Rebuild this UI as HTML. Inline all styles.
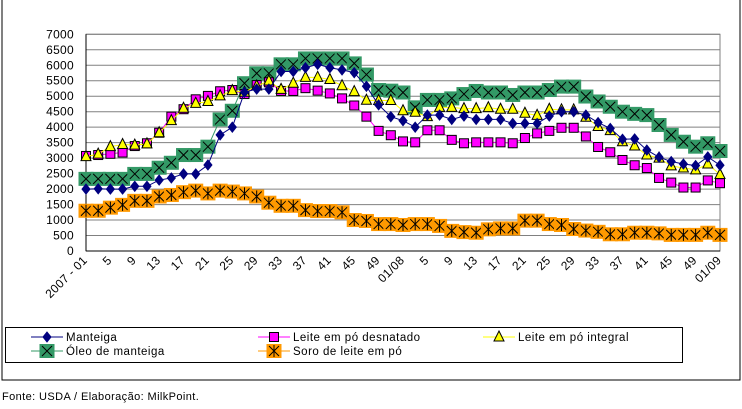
<!DOCTYPE html>
<html><head><meta charset="utf-8"><style>
body{margin:0;background:#fff;width:742px;height:404px;overflow:hidden;font-family:"Liberation Sans",sans-serif}
</style></head><body>
<svg id="c" width="742" height="404" xmlns="http://www.w3.org/2000/svg" font-family="Liberation Sans, sans-serif">
<rect x="2" y="-2" width="738" height="382" fill="#fff" stroke="#000" stroke-width="1"/>
<g id="grid"></g>
<g id="yax"></g>
<g id="xax"></g>
<g id="series"></g>
<g>
<rect x="5.5" y="327.5" width="677" height="35" fill="#fff" stroke="#000"/>
<g id="leg"></g>
</g>
<text x="2" y="400" font-size="11" letter-spacing="0.4" fill="#000">Fonte: USDA / Elaboração: MilkPoint.</text>
</svg>
<script>
const categories=["2007 - 01","5","9","13","17","21","25","29","33","37","41","45","49","01/08","5","9","13","17","21","25","29","33","37","41","45","49","01/09"];
const yTicks=[0,500,1000,1500,2000,2500,3000,3500,4000,4500,5000,5500,6000,6500,7000];
const manteiga=[2000,2010,2000,2000,2090,2090,2290,2360,2490,2490,2780,3750,4000,5130,5230,5230,5800,5800,5920,6030,5920,5850,5760,5320,4720,4340,4210,4000,4390,4390,4250,4360,4250,4250,4250,4120,4120,4120,4360,4500,4500,4390,4150,3960,3610,3620,3260,3030,2890,2810,2760,3040,2770];
const desnatado=[3070,3100,3140,3180,3390,3480,3820,4340,4580,4900,5010,5160,5200,5070,5360,5450,5170,5170,5260,5180,5090,4930,4700,4340,3880,3740,3540,3510,3900,3900,3590,3480,3510,3510,3510,3480,3650,3800,3880,3980,3980,3700,3360,3190,2940,2770,2680,2360,2210,2050,2050,2280,2190];
const integral=[3050,3130,3370,3440,3420,3460,3820,4210,4610,4770,4830,5010,5180,5130,5330,5490,5220,5420,5610,5610,5540,5340,5150,4870,4860,4860,4530,4480,4340,4640,4640,4600,4600,4630,4580,4580,4450,4380,4580,4560,4560,4320,4020,3890,3530,3390,3100,3000,2750,2680,2620,2810,2470];
const oleo=[2330,2330,2330,2330,2490,2490,2690,2850,3100,3100,3370,4250,4530,5420,5740,5740,6030,6030,6220,6220,6220,6220,6060,5700,5200,5180,5120,4640,4880,4880,4930,5070,5170,5120,5120,5040,5120,5120,5200,5310,5310,4990,4830,4660,4500,4430,4390,4070,3750,3530,3370,3480,3230];
const soro=[1300,1300,1400,1490,1620,1620,1760,1810,1900,1950,1860,1950,1920,1860,1760,1560,1460,1460,1320,1290,1290,1250,1000,970,870,870,840,870,870,810,650,610,590,700,730,730,980,980,870,840,710,660,620,540,540,590,590,570,520,520,520,590,520];
const NS="http://www.w3.org/2000/svg";
const X0=86,X1=720,Y0=251,Y1=34.3,N=manteiga.length;
const xs=i=>X0+(X1-X0)*i/(N-1);
const ys=v=>Y0-(Y0-Y1)*v/7000;
function el(t,a,p){const e=document.createElementNS(NS,t);for(const k in a)e.setAttribute(k,a[k]);p.appendChild(e);return e;}
const grid=document.getElementById('grid'),yax=document.getElementById('yax'),xax=document.getElementById('xax');
el('rect',{x:X0,y:Y1,width:X1-X0,height:Y0-Y1,fill:'#fff',stroke:'#808080'},grid);
yTicks.forEach(v=>{
 const l=el('line',{x1:X0,x2:X1,y1:ys(v),y2:ys(v),stroke:'#808080'},grid);
 
 
 const t=el('text',{x:74,y:ys(v)+4,'text-anchor':'end','font-size':'12','letter-spacing':'0.3'},yax);
 t.textContent=v;
 
 
});
el('line',{x1:X0,x2:X0,y1:Y1,y2:Y0,stroke:'#000'},yax);
el('line',{x1:X0,x2:X1,y1:Y0,y2:Y0,stroke:'#000'},xax);
categories.forEach((c,k)=>{
 const x=xs(k*2);
 const t=el('text',{x:x+2,y:Y0+10,'text-anchor':'end','font-size':'12','letter-spacing':'0.3',transform:`rotate(-45 ${x+2} ${Y0+10})`},xax);
 t.textContent=c;
 
 
});
const ser=document.getElementById('series');
function marker(type,x,y,g){
 if(type==='d')el('polygon',{points:`${x},${y-5} ${x+4},${y} ${x},${y+5} ${x-4},${y}`,fill:'#000080',stroke:'#000080'},g);
 if(type==='s')el('rect',{x:x-4.5,y:y-4.5,width:9,height:9,fill:'#ff00ff',stroke:'#000'},g);
 if(type==='t')el('polygon',{points:`${x},${y-6} ${x+5},${y+4} ${x-5},${y+4}`,fill:'#ffff00',stroke:'#000'},g);
 if(type==='o'){el('rect',{x:x-7.5,y:y-7,width:15,height:14,fill:'#339966'},g);el('path',{d:`M${x-5},${y-5}L${x+5},${y+5}M${x+5},${y-5}L${x-5},${y+5}`,stroke:'#000'},g);}
 if(type==='x'){el('rect',{x:x-7.5,y:y-7,width:15,height:14,fill:'#ff9900'},g);el('path',{d:`M${x-5},${y-5}L${x+5},${y+5}M${x+5},${y-5}L${x-5},${y+5}M${x},${y-6}L${x},${y+6}`,stroke:'#000'},g);}
}
const defs=[['oleo',oleo,'#339966','o'],['soro',soro,'#ff9900','x'],['desnatado',desnatado,'#ff00ff','s'],['integral',integral,'#ffff00','t'],['manteiga',manteiga,'#000080','d']];
defs.forEach(([n,d,col,m])=>{
 const g=el('g',{},ser);
 
 
 el('polyline',{points:d.map((v,i)=>xs(i)+','+ys(v)).join(' '),fill:'none',stroke:col,'stroke-width':1},g);
 d.forEach((v,i)=>marker(m,xs(i),ys(v),g));
});
const leg=document.getElementById('leg');
const items=[['Manteiga','#000080','d',47,337],['Leite em pó desnatado','#ff00ff','s',274,337],['Leite em pó integral','#ffff00','t',499,337],['Óleo de manteiga','#339966','o',47,351],['Soro de leite em pó','#ff9900','x',274,351]];
items.forEach(([lab,col,m,x,y])=>{
 const g=el('g',{},leg);
 
 
 el('line',{x1:x-16,x2:x+16,y1:y,y2:y,stroke:col},g);
 marker(m,x,y,g);
 const t=el('text',{x:x+19,y:y+4,'font-size':'11.5','letter-spacing':'0.5'},g);
 t.textContent=lab;
});
</script>
</body></html>
